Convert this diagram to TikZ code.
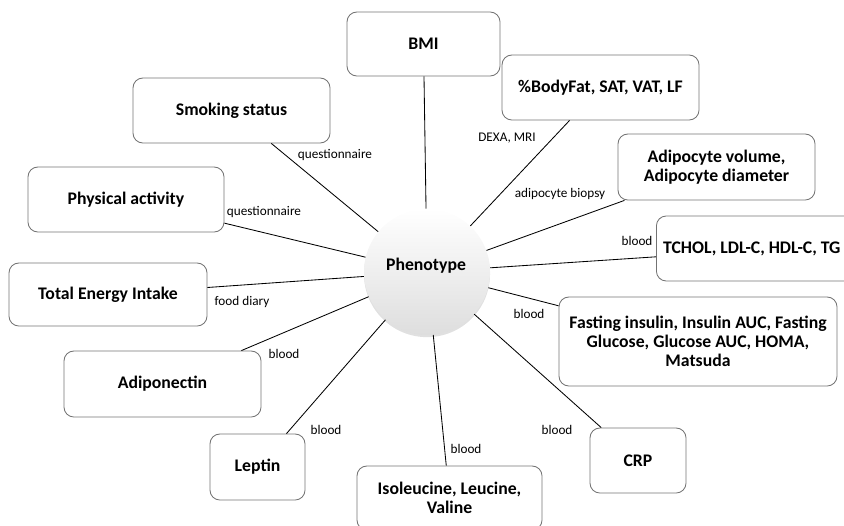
\documentclass[tikz,border=0pt]{standalone}
\usepackage{fontspec}
\setmainfont{Carlito}
\usetikzlibrary{shadows}
\begin{document}
\begin{tikzpicture}[x=0.025cm,y=-0.025cm,
  box/.style={draw=black!55,line width=0.6pt,rounded corners=7pt,align=center,
    font=\fontsize{12.6}{13.5}\selectfont\bfseries,inner sep=0pt},
  lbl/.style={font=\fontsize{9.4}{11}\selectfont,inner sep=0pt},
  link/.style={line width=0.6pt}]
\useasboundingbox (0,0) rectangle (844,526);
% centre
\node[circle,minimum size=3.15cm,inner sep=0pt,top color=white,middle color=white,bottom color=black!13,
  drop shadow={shadow xshift=0pt,shadow yshift=-1.5pt,opacity=0.3,fill=black!40}] (pheno) at (427,272) {};
\node[font=\fontsize{12.6}{13.5}\selectfont\bfseries] (phenotxt) at (426,266) {Phenotype};
% measures
\node[box,minimum width=153*0.025cm,minimum height=64*0.025cm] (bmi) at (423.5,44) {BMI};
\node[box,minimum width=197*0.025cm,minimum height=65*0.025cm] (fat) at (600.5,87.5) {\%BodyFat, SAT, VAT, LF};
\node[box,minimum width=197*0.025cm,minimum height=66*0.025cm] (adip) at (716.5,167) {Adipocyte volume,\\Adipocyte diameter};
\node[box,anchor=west,minimum width=250*0.025cm,minimum height=65*0.025cm] (tchol) at (656,248.5)
  {\makebox[6.25cm][l]{\hspace{0.17cm}TCHOL, LDL-C, HDL-C, TG}};
\node[box,minimum width=278*0.025cm,minimum height=89*0.025cm] (fast) at (698,341.5) {Fasting insulin, Insulin AUC, Fasting\\Glucose, Glucose AUC, HOMA,\\Matsuda};
\node[box,minimum width=96*0.025cm,minimum height=65*0.025cm] (crp) at (638,460.5) {CRP};
\node[box,minimum width=185*0.025cm,minimum height=64*0.025cm] (iso) at (449.5,498) {Isoleucine, Leucine,\\Valine};
\node[box,minimum width=95*0.025cm,minimum height=66*0.025cm] (lep) at (257.5,467) {Leptin};
\node[box,minimum width=197*0.025cm,minimum height=66*0.025cm] (adpn) at (162.5,384) {Adiponectin};
\node[box,minimum width=198*0.025cm,minimum height=63*0.025cm] (tei) at (108,294.5) {Total Energy Intake};
\node[box,minimum width=196*0.025cm,minimum height=65*0.025cm] (phys) at (126,199.5) {Physical activity};
\node[box,minimum width=197*0.025cm,minimum height=65*0.025cm] (smok) at (231.5,110.5) {Smoking status};
% connectors
\foreach \m in {bmi,fat,adip,tchol,fast,crp,iso,lep,adpn,tei,phys,smok}
  \draw[link] (\m) -- (pheno);
% methods
\node[lbl] (lsmok) at (335,155) {questionnaire};
\node[lbl] (lphys) at (264,212) {questionnaire};
\node[lbl] (ltei) at (242,302) {food diary};
\node[lbl] (ladpn) at (284,354) {blood};
\node[lbl] (llep) at (326,430) {blood};
\node[lbl] (liso) at (466,449) {blood};
\node[lbl] (lcrp) at (557,430) {blood};
\node[lbl] (lfast) at (529,314) {blood};
\node[lbl] (ltchol) at (637,241) {blood};
\node[lbl] (ladip) at (560,194) {adipocyte biopsy};
\node[lbl] (lfat) at (507,138) {DEXA, MRI};
\end{tikzpicture}
\end{document}
